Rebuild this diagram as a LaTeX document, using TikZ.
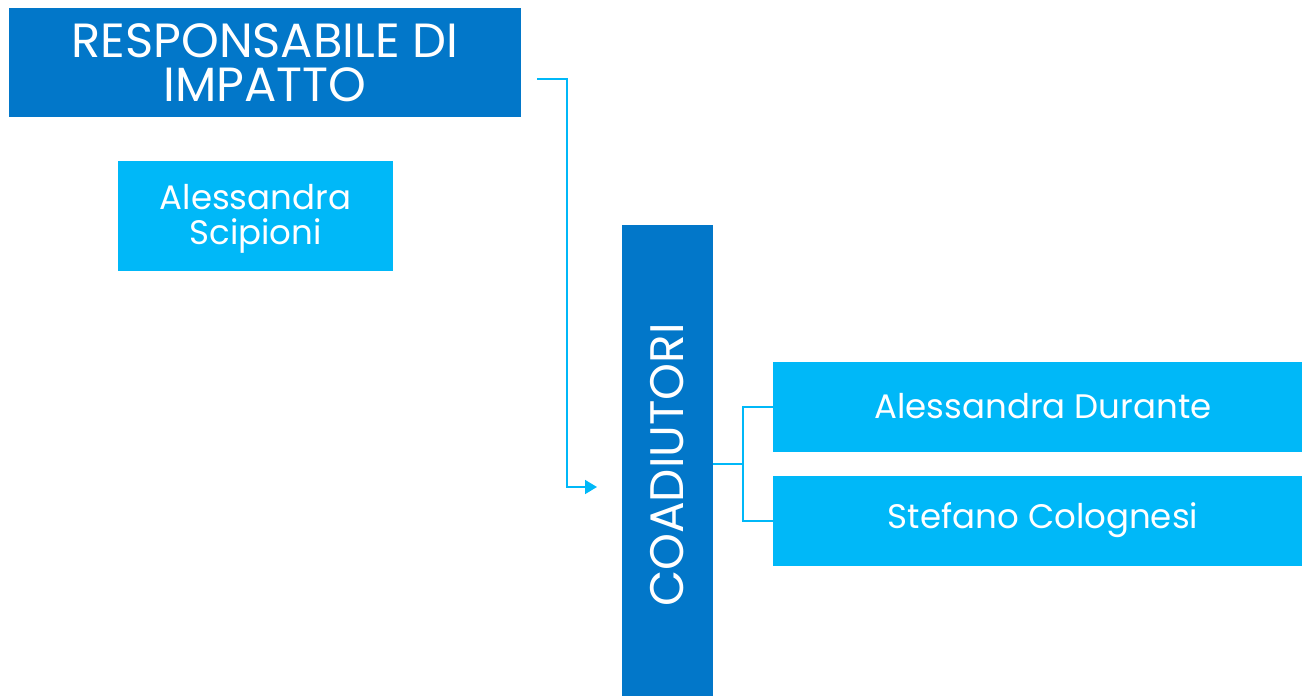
\documentclass[tikz,border=0pt]{standalone}
\usepackage{fontspec}
\setmainfont{Poppins}
\usetikzlibrary{arrows.meta}
\definecolor{dblue}{HTML}{0277C9}
\definecolor{lblue}{HTML}{00B8F8}
\begin{document}
\begin{tikzpicture}[x=1pt,y=-1pt,
  box/.style={inner sep=0pt,outer sep=0pt,text=white,align=center},
  conn/.style={draw=lblue,line width=1.6pt}]
\useasboundingbox (0,0) rectangle (1302,696);
\fill[dblue] (9,8) rectangle (521,117);
\node[box,font=\fontsize{48}{44}\selectfont] (resp) at (265,63) {RESPONSABILE DI\\IMPATTO};
\fill[lblue] (118,161) rectangle (393,271);
\node[box,font=\fontsize{34}{35}\selectfont] (sci) at (255.5,219) {Alessandra\\Scipioni};
\fill[dblue] (622,225) rectangle (713,696);
\node[box,rotate=90,font=\fontsize{47}{48}\selectfont] (coad) at (667,465) {COADIUTORI};
\fill[lblue] (773,362) rectangle (1302,452);
\node[box,font=\fontsize{34}{36}\selectfont] (dur) at (1043,406) {Alessandra Durante};
\fill[lblue] (773,476) rectangle (1302,566);
\node[box,font=\fontsize{34}{36}\selectfont] (col) at (1043,520) {Stefano Colognesi};
\coordinate (a0) at (537,79);
\coordinate (a1) at (597,487);
\draw[conn,-{Triangle[length=12pt,width=14pt]}] (a0) -- (567,79) |- (a1);
\coordinate (c0) at (713,464);
\coordinate (d0) at (773,407);
\coordinate (e0) at (773,521);
\draw[conn] (c0) -- (743,464);
\draw[conn] (d0) -- (743,407) -- (743,521) -- (e0);
\end{tikzpicture}
\end{document}
